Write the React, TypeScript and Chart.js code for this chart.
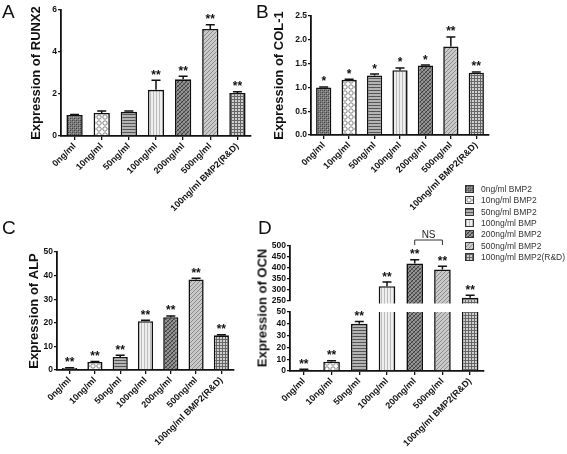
import React, { useEffect, useMemo, useRef } from 'react';
import { Chart, registerables } from 'chart.js';

Chart.register(...registerables);

const FONT = '"Liberation Sans", Arial, sans-serif';
Chart.defaults.font.family = FONT;
Chart.defaults.color = '#222';

// ---------- data ----------
const categories = ['0ng/ml', '10ng/ml', '50ng/ml', '100ng/ml', '200ng/ml', '500ng/ml', '100ng/ml BMP2(R&D)'];
const legendLabels = ['0ng/ml BMP2', '10ng/ml BMP2', '50ng/ml BMP2', '100ng/ml BMP', '200ng/ml BMP2', '500ng/ml BMP2', '100ng/ml BMP2(R&D)'];

const runx2Values = [1.0, 1.1, 1.15, 2.2, 2.7, 5.1, 2.05];
const runx2Errors = [0.02, 0.09, 0.04, 0.45, 0.15, 0.2, 0.06];
const runx2Marks = ['', '', '', '**', '**', '**', '**'];
const runx2Range = [0, 6, 2];

const col1Values = [1.0, 1.16, 1.25, 1.36, 1.46, 1.86, 1.31];
const col1Errors = [0.01, 0.01, 0.03, 0.05, 0.01, 0.2, 0.015];
const col1Marks = ['*', '*', '*', '*', '*', '**', '**'];
const col1Range = [0, 2.5, 0.5];

const alpValues = [0.9, 3.4, 5.5, 20.7, 22.4, 38.4, 14.7];
const alpErrors = [0.1, 0.2, 0.8, 0.4, 0.5, 0.5, 0.2];
const alpMarks = ['**', '**', '**', '**', '**', '**', '**'];
const alpRange = [0, 50, 10];

const ocnValues = [1, 7.9, 40, 317, 420, 393, 265];
const ocnErrors = [0.4, 0.8, 2, 19, 18, 15, 11];
const ocnMarks = ['**', '**', '**', '**', '**', '**', '**'];
const ocnLowerRange = [0, 50, 10];
const ocnUpperRange = [250, 500, 50];
const ocnNsPair = [4, 5];

// ---------- patterns ----------
type Px = [number, number, string];
function tile(size: number, bg: string, px: Px[]): HTMLCanvasElement {
  const c = document.createElement('canvas');
  c.width = size;
  c.height = size;
  const g = c.getContext('2d')!;
  g.fillStyle = bg;
  g.fillRect(0, 0, size, size);
  px.forEach(([x, y, col]) => {
    g.fillStyle = col;
    g.fillRect(x, y, 1, 1);
  });
  return c;
}
function makeTiles(): HTMLCanvasElement[] {
  const t: HTMLCanvasElement[] = [];
  // 0ng: dark fine crosshatch
  t.push(tile(4, '#7e7e7e', [[0, 0, '#3e3e3e'], [2, 2, '#3e3e3e'], [2, 0, '#5a5a5a'], [0, 2, '#5a5a5a'], [1, 1, '#a4a4a4'], [3, 3, '#a4a4a4']]));
  // 10ng: light circles
  {
    const c = document.createElement('canvas');
    c.width = 6; c.height = 6;
    const g = c.getContext('2d')!;
    g.fillStyle = '#ffffff'; g.fillRect(0, 0, 6, 6);
    g.strokeStyle = '#808080'; g.lineWidth = 1;
    g.beginPath(); g.arc(3, 3, 2.2, 0, Math.PI * 2); g.stroke();
    t.push(c);
  }
  // 50ng: horizontal stripes
  {
    const px: Px[] = [];
    for (let x = 0; x < 3; x++) px.push([x, 0, '#555555']);
    t.push(tile(3, '#b4b4b4', px));
  }
  // 100ng: light vertical stripes
  {
    const px: Px[] = [];
    for (let y = 0; y < 3; y++) px.push([0, y, '#bcbcbc']);
    t.push(tile(3, '#eeeeee', px));
  }
  // 200ng: dark diagonal hatch
  {
    const px: Px[] = [];
    for (let i = 0; i < 4; i++) px.push([i, 3 - i, '#404040']);
    for (let i = 0; i < 4; i++) px.push([i, i, '#6a6a6a']);
    t.push(tile(4, '#949494', px));
  }
  // 500ng: light diagonal
  {
    const px: Px[] = [];
    for (let i = 0; i < 4; i++) px.push([i, 3 - i, '#8a8a8a']);
    t.push(tile(4, '#cacaca', px));
  }
  // R&D: grid
  {
    const px: Px[] = [];
    for (let i = 0; i < 3; i++) { px.push([i, 0, '#666666']); px.push([0, i, '#666666']); }
    t.push(tile(3, '#cfcfcf', px));
  }
  return t;
}

// ---------- plugin: error bars, significance marks, NS bracket ----------
function errorPlugin(values: number[], errors: number[], marks: string[], ns?: number[]) {
  return {
    id: 'errMarks',
    afterDatasetsDraw(chart: any) {
      const ctx = chart.ctx as CanvasRenderingContext2D;
      const ys = chart.scales.y;
      const meta = chart.getDatasetMeta(0);
      ctx.save();
      ctx.strokeStyle = '#111';
      ctx.lineWidth = 1.5;
      values.forEach((v, i) => {
        if (v < ys.min || v > ys.max) return;
        const x = meta.data[i].x;
        const y0 = ys.getPixelForValue(v);
        const y1 = ys.getPixelForValue(v + errors[i]);
        ctx.beginPath();
        ctx.moveTo(x, y0);
        ctx.lineTo(x, y1);
        ctx.moveTo(x - 4.5, y1);
        ctx.lineTo(x + 4.5, y1);
        ctx.stroke();
        if (marks[i]) {
          ctx.font = `bold 12px ${FONT}`;
          ctx.textAlign = 'center';
          ctx.textBaseline = 'alphabetic';
          ctx.fillStyle = '#111';
          ctx.fillText(marks[i], x, y1 - 1.5);
        }
      });
      if (ns) {
        const xa = meta.data[ns[0]].x;
        const xb = meta.data[ns[1]].x;
        const top = chart.chartArea.top;
        const yb = top - 6;
        ctx.lineWidth = 1;
        ctx.strokeStyle = '#333';
        ctx.beginPath();
        ctx.moveTo(xa, top - 1);
        ctx.lineTo(xa, yb);
        ctx.lineTo(xb, yb);
        ctx.lineTo(xb, top - 1);
        ctx.stroke();
        ctx.font = `10px ${FONT}`;
        ctx.textAlign = 'center';
        ctx.textBaseline = 'alphabetic';
        ctx.fillStyle = '#222';
        ctx.fillText('NS', (xa + xb) / 2, yb - 2);
      }
      ctx.restore();
    },
  };
}

type Spec = {
  left: number; top: number; width: number; height: number;
  values: number[]; errors: number[]; marks: string[]; range: number[]; decimals: number;
  pad: { top: number; right: number; bottom: number; left: number };
  yWidth: number; xHeight: number | null;
  title?: string; titleCenter?: number;
  clip?: any; ns?: number[];
};

function buildConfig(s: Spec, patterns: CanvasPattern[]): any {
  const axisColor = '#111';
  return {
    type: 'bar',
    data: {
      labels: categories,
      datasets: [{
        data: s.values,
        backgroundColor: patterns,
        borderColor: '#111',
        borderWidth: 1.6,
        barPercentage: 0.6,
        categoryPercentage: 1,
        clip: s.clip === undefined ? 8 : s.clip,
      }],
    },
    options: {
      responsive: false,
      animation: false,
      devicePixelRatio: 1,
      events: [],
      layout: { padding: s.pad },
      plugins: { legend: { display: false }, tooltip: { enabled: false } },
      scales: {
        x: {
          display: s.xHeight !== null,
          offset: true,
          grid: { display: true, offset: false, drawOnChartArea: false, drawTicks: true, tickLength: 4, color: axisColor, lineWidth: 1.3 },
          border: { display: true, color: axisColor, width: 1.8 },
          ticks: { minRotation: 45, maxRotation: 45, autoSkip: false, padding: 1, color: '#111', font: { size: 9, weight: 'bold' } },
          afterFit: (sc: any) => { if (s.xHeight !== null) sc.height = s.xHeight; },
        },
        y: {
          min: s.range[0],
          max: s.range[1],
          grid: { display: true, drawOnChartArea: false, drawTicks: true, tickLength: 3, color: axisColor, lineWidth: 1.3 },
          border: { display: true, color: axisColor, width: 1.8 },
          ticks: {
            stepSize: s.range[2],
            autoSkip: false,
            padding: 1,
            color: '#111',
            font: { size: 8.5, weight: 'bold' },
            callback: (v: any) => Number(v).toFixed(s.decimals),
          },
          title: s.title
            ? { display: true, text: s.title, color: '#111', font: { size: 13, weight: 'bold' }, padding: { top: (s.titleCenter || 0) - 7.8, bottom: 0 } }
            : { display: false },
          afterFit: (sc: any) => { sc.width = s.yWidth; },
        },
      },
    },
    plugins: [errorPlugin(s.values, s.errors, s.marks, s.ns)],
  };
}

const specs: Spec[] = [
  // A: area L61 R251 T10 B136
  { left: 0, top: 0, width: 270, height: 230, values: runx2Values, errors: runx2Errors, marks: runx2Marks, range: runx2Range, decimals: 0,
    pad: { top: 10, right: 19, bottom: 0, left: 0 }, yWidth: 61, xHeight: 94, title: 'Expression of RUNX2', titleCenter: 36 },
  // B: area L311 R489 T16 B135
  { left: 270, top: 0, width: 297, height: 230, values: col1Values, errors: col1Errors, marks: col1Marks, range: col1Range, decimals: 1,
    pad: { top: 16, right: 78, bottom: 0, left: 0 }, yWidth: 41, xHeight: 95, title: 'Expression of COL-1', titleCenter: 9 },
  // C: area L57 R234 T252 B370
  { left: 0, top: 225, width: 270, height: 229, values: alpValues, errors: alpErrors, marks: alpMarks, range: alpRange, decimals: 0,
    pad: { top: 27, right: 36, bottom: 0, left: 0 }, yWidth: 57, xHeight: 84, title: 'Expression of ALP', titleCenter: 34 },
  // D upper: area L290 R484 T246 B301
  { left: 270, top: 215, width: 297, height: 100, values: ocnValues, errors: ocnErrors, marks: ocnMarks, range: ocnUpperRange, decimals: 0,
    pad: { top: 31, right: 83, bottom: 14, left: 0 }, yWidth: 20, xHeight: null,
    clip: { left: 8, right: 8, top: 8, bottom: 2.5 }, ns: ocnNsPair },
  // D lower: area L290 R484 T312 B371
  { left: 270, top: 300, width: 297, height: 154, values: ocnValues, errors: ocnErrors, marks: ocnMarks, range: ocnLowerRange, decimals: 0,
    pad: { top: 12, right: 83, bottom: 0, left: 0 }, yWidth: 20, xHeight: 83,
    clip: { left: 8, right: 8, top: 0, bottom: 8 } },
];

function Panel({ spec, tiles }: { spec: Spec; tiles: HTMLCanvasElement[] }) {
  const ref = useRef<HTMLCanvasElement | null>(null);
  useEffect(() => {
    const canvas = ref.current!;
    const ctx = canvas.getContext('2d')!;
    const patterns = tiles.map((t) => ctx.createPattern(t, 'repeat') as CanvasPattern);
    const chart = new Chart(canvas, buildConfig(spec, patterns));
    return () => chart.destroy();
  }, [spec, tiles]);
  return (
    <canvas
      ref={ref}
      width={spec.width}
      height={spec.height}
      style={{ position: 'absolute', left: spec.left, top: spec.top, width: spec.width, height: spec.height }}
    />
  );
}

const letterStyle: React.CSSProperties = {
  position: 'absolute', fontFamily: FONT, fontSize: 19, lineHeight: 1, color: '#111',
};

export default function App() {
  const tiles = useMemo(() => makeTiles(), []);
  const urls = useMemo(() => tiles.map((t) => t.toDataURL()), [tiles]);
  return (
    <div style={{ position: 'absolute', left: 0, top: 0, width: 567, height: 454, background: '#fff', overflow: 'hidden' }}>
      {specs.map((s, i) => <Panel key={i} spec={s} tiles={tiles} />)}
      <div style={{ ...letterStyle, left: 2, top: 2 }}>A</div>
      <div style={{ ...letterStyle, left: 256, top: 2 }}>B</div>
      <div style={{ ...letterStyle, left: 2, top: 218 }}>C</div>
      <div style={{ ...letterStyle, left: 258, top: 218 }}>D</div>
      <div
        style={{
          position: 'absolute', left: 261.5, top: 308, transform: 'translate(-50%, -50%) rotate(-90deg)',
          whiteSpace: 'nowrap', fontFamily: FONT, fontSize: 13, fontWeight: 'bold', color: '#111', lineHeight: 1,
        }}
      >
        Expression of OCN
      </div>
      {legendLabels.map((label, i) => {
        const cy = 189 + i * 11.3;
        return (
          <React.Fragment key={label}>
            <div
              style={{
                position: 'absolute', left: 465, top: cy - 4, width: 7, height: 6,
                border: '1px solid #333', backgroundImage: `url(${urls[i]})`,
              }}
            />
            <div
              style={{
                position: 'absolute', left: 481, top: cy - 5, fontFamily: FONT, fontSize: 8.5,
                lineHeight: '10px', color: '#333', whiteSpace: 'nowrap',
              }}
            >
              {label}
            </div>
          </React.Fragment>
        );
      })}
    </div>
  );
}
